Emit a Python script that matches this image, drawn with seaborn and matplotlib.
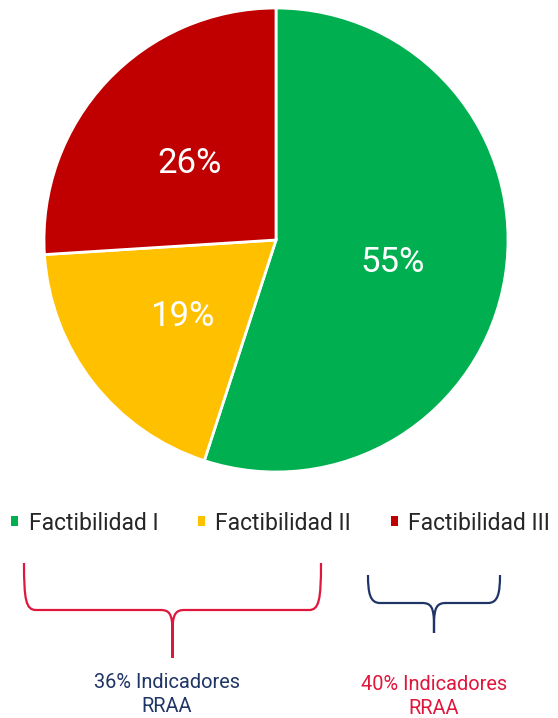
import matplotlib
matplotlib.use("Agg")
import matplotlib.pyplot as plt
import seaborn as sns
from matplotlib.path import Path
from matplotlib.patches import PathPatch, Patch

categories = ["Factibilidad I", "Factibilidad II", "Factibilidad III"]
shares = [55, 19, 26]
colors = ["#00B050", "#FFC000", "#C00000"]
group_labels = ["36% Indicadores\nRRAA", "40% Indicadores\nRRAA"]
group_colors = ["#1F3566", "#E0163C"]   # text colours
brace_colors = ["#E0163C", "#1F3566"]

sns.set_style("white")
plt.rcParams["font.family"] = ["Roboto", "DejaVu Sans"]

fig = plt.figure(figsize=(5.58, 7.18), dpi=100)

# pie
ax = fig.add_axes([44 / 558, 246 / 718, 464 / 558, 464 / 718])
wedges, texts, autotexts = ax.pie(
    shares, colors=colors, startangle=90, counterclock=False,
    autopct="%1.0f%%", pctdistance=0.51,
    wedgeprops=dict(edgecolor="white", linewidth=2),
    textprops=dict(color="white", fontsize=25),
)
for t in autotexts:
    x, y = t.get_position()
    t.set_position((x, y - 0.018))
ax.set_aspect("equal")
ax.set_xlim(-1, 1)
ax.set_ylim(-1, 1)

# legend
handles = [Patch(facecolor=c, edgecolor="none") for c in colors]
fig.legend(handles, categories, loc="center left", bbox_to_anchor=(11 / 558, 1 - 523 / 718),
           ncol=3, frameon=False, fontsize=16.5, handlelength=0.32, handleheight=0.32,
           handletextpad=0.45, columnspacing=1.72, borderaxespad=0, borderpad=0)

# overlay in pixel units for the braces and group notes
ov = fig.add_axes([0, 0, 1, 1])
ov.set_xlim(0, 558)
ov.set_ylim(718, 0)
ov.axis("off")


def brace(axis, x0, x1, yt, ym, yb, color):
    xc = (x0 + x1) / 2
    r = 12
    verts = [
        (x0, yt), (x0, ym - 10), (x0 + 2, ym), (x0 + r, ym),
        (xc - r, ym), (xc - 3, ym), (xc, ym + 4), (xc, ym + 22),
        (xc, yb),
        (xc, ym + 22), (xc, ym + 4), (xc + 3, ym), (xc + r, ym),
        (x1 - r, ym), (x1 - 2, ym), (x1, ym - 10), (x1, yt),
    ]
    codes = [Path.MOVETO, Path.CURVE4, Path.CURVE4, Path.CURVE4,
             Path.LINETO, Path.CURVE4, Path.CURVE4, Path.CURVE4,
             Path.LINETO,
             Path.LINETO, Path.CURVE4, Path.CURVE4, Path.CURVE4,
             Path.LINETO, Path.CURVE4, Path.CURVE4, Path.CURVE4]
    axis.add_patch(PathPatch(Path(verts, codes), facecolor="none",
                             edgecolor=color, linewidth=1.6, capstyle="butt"))
    return xc


xa = brace(ov, 24, 321, 563, 610, 658, brace_colors[0])
xb = brace(ov, 368, 500, 575, 603, 633, brace_colors[1])
ov.text(xa - 6, 694.5, group_labels[0], ha="center", va="center", color=group_colors[0],
        fontsize=14.4, linespacing=1.35)
ov.text(xb, 696.5, group_labels[1], ha="center", va="center", color=group_colors[1],
        fontsize=14.4, linespacing=1.35)

fig.savefig("out.png", dpi=100)
